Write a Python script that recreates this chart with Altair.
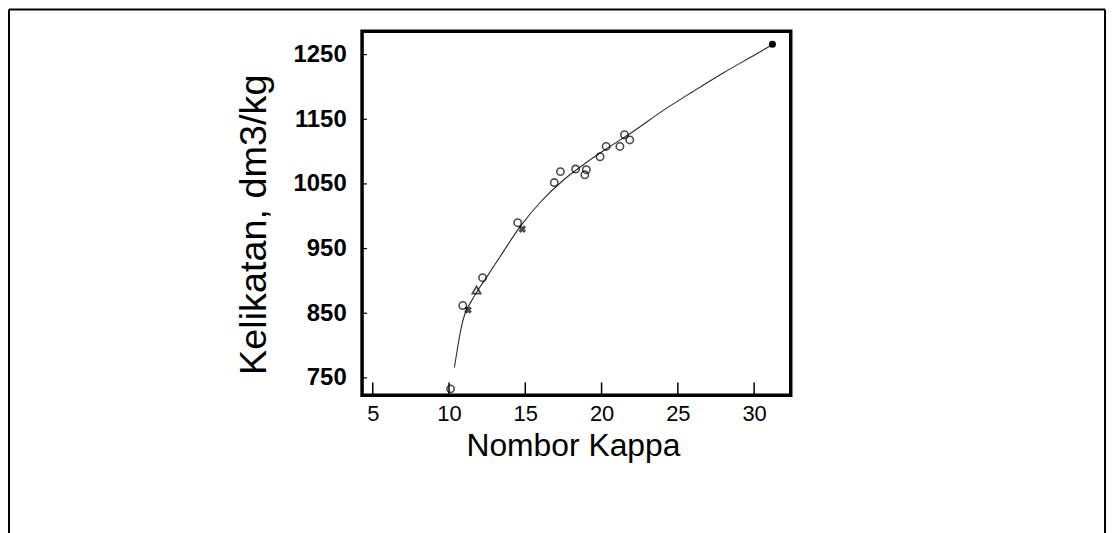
import altair as alt
import pandas as pd

# ---- data ----
curve_x = [10.35, 10.55, 10.75, 11.05, 11.4, 11.85, 12.5, 13.5, 14.6, 16.0, 17.5, 19.0, 20.5, 22.0, 24.0, 26.0, 28.0, 30.0, 31.1]
curve_y = [766, 795, 822, 850, 866, 884, 907, 943, 982, 1022, 1056, 1083, 1107, 1130, 1163, 1193, 1222, 1249, 1264]

open_x = [10.1, 10.9, 12.2, 14.5, 16.9, 17.3, 18.3, 19.0, 18.9, 19.9, 20.3, 21.2, 21.5, 21.85]
open_y = [733, 862, 905, 990, 1052, 1069, 1073, 1072, 1064, 1092, 1108, 1108, 1126, 1118]

tri_x = [11.8]
tri_y = [886]

star_x = [11.25, 14.8]
star_y = [855, 980]

filled_x = [31.2]
filled_y = [1266]

x_ticks = [5, 10, 15, 20, 25, 30]
y_ticks = [750, 850, 950, 1050, 1150, 1250]
x_domain = [4.3, 32.4]
y_domain = [723, 1286]

x_title = "Nombor Kappa"
y_title = "Kelikatan, dm3/kg"

W = 431
H = 366

xs = alt.Scale(domain=x_domain, nice=False, zero=False)
ys = alt.Scale(domain=y_domain, nice=False, zero=False)

xaxis = alt.Axis(
    title=x_title, values=x_ticks, domain=False, ticks=False, grid=False,
    format="d",
    labelFont="Liberation Sans", labelFontSize=22, labelColor="black",
    labelPadding=8, labelBaseline="top",
    titleFont="Liberation Sans", titleFontSize=32, titleFontWeight="normal",
    titleColor="black", titleX=212, titleY=61, titleBaseline="alphabetic",
)
yaxis = alt.Axis(
    title=y_title, values=y_ticks, domain=False, ticks=False, grid=False,
    format="d",
    labelFont="Liberation Sans", labelFontSize=24, labelFontWeight="bold",
    labelColor="black", labelPadding=16,
    titleFont="Liberation Sans", titleFontSize=38, titleFontWeight="normal",
    titleColor="black", titleX=-97, titleY=194, titleBaseline="alphabetic",
    titleAngle=270,
)

def X(field):
    return alt.X(field, type="quantitative", scale=xs, axis=xaxis)

def Y(field):
    return alt.Y(field, type="quantitative", scale=ys, axis=yaxis)

curve_df = pd.DataFrame({"x": curve_x, "y": curve_y})
open_df = pd.DataFrame({"x": open_x, "y": open_y})
tri_df = pd.DataFrame({"x": tri_x, "y": tri_y})
star_df = pd.DataFrame({"x": star_x, "y": star_y})
filled_df = pd.DataFrame({"x": filled_x, "y": filled_y})
xt_df = pd.DataFrame({"x": x_ticks})
yt_df = pd.DataFrame({"y": y_ticks})

curve = alt.Chart(curve_df).mark_line(
    color="#2a2a2a", strokeWidth=1.1, interpolate="monotone"
).encode(x=X("x"), y=Y("y"))

opens = alt.Chart(open_df).mark_point(
    shape="circle", filled=False, color="black", strokeWidth=1.6, size=55
).encode(x=X("x"), y=Y("y"))

tris = alt.Chart(tri_df).mark_point(
    shape="triangle-up", filled=False, color="black", strokeWidth=1.8, size=70
).encode(x=X("x"), y=Y("y"))

stars = alt.Chart(star_df).mark_point(
    shape="cross", filled=True, color="black", size=60, angle=45
).encode(x=X("x"), y=Y("y"))

filled = alt.Chart(filled_df).mark_point(
    shape="circle", filled=True, color="black", size=50, opacity=1
).encode(x=X("x"), y=Y("y"))

xticks = alt.Chart(xt_df).mark_rule(color="black", strokeWidth=1.5).encode(
    x=X("x"), y=alt.value(H), y2=alt.value(H - 13)
)
yticks = alt.Chart(yt_df).mark_rule(color="black", strokeWidth=1.2).encode(
    y=Y("y"), x=alt.value(0), x2=alt.value(5)
)

one = alt.Data(values=[{"a": 1}])
frame_top = alt.Chart(one).mark_rule(color="black", strokeWidth=2).encode(
    x=alt.value(-355), x2=alt.value(747), y=alt.value(-22)
)
frame_left = alt.Chart(one).mark_rule(color="black", strokeWidth=2).encode(
    x=alt.value(-355), y=alt.value(-22), y2=alt.value(520)
)
frame_right = alt.Chart(one).mark_rule(color="black", strokeWidth=2).encode(
    x=alt.value(747), y=alt.value(-22), y2=alt.value(520)
)

chart = alt.layer(
    frame_top, frame_left, frame_right,
    curve, xticks, yticks, opens, tris, stars, filled,
).properties(
    width=W, height=H,
    background="white",
    autosize=alt.AutoSizeParams(type="none"),
    padding={"left": 356, "top": 22, "right": 320, "bottom": 140},
).configure_view(
    stroke="black", strokeWidth=3.5
)

chart.save("out.html", embed_options={"renderer": "svg", "actions": False})
